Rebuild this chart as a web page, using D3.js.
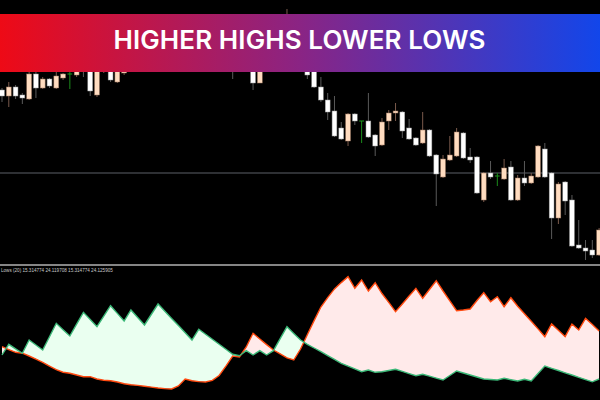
<!DOCTYPE html>
<html><head><meta charset="utf-8">
<script src="https://cdn.jsdelivr.net/npm/d3@7"></script>
<style>html,body{margin:0;padding:0;background:#000;overflow:hidden}svg{display:block}</style>
</head><body><svg id="c" width="600" height="400"></svg>
<script>
const title = "HIGHER HIGHS LOWER LOWS";
const indicatorLabel = "Lows (20) 15.314774 24.119708 15.314774 24.125905";
const levelPrice = 1.2827;

const open = [
1.2910,1.2904,1.2913,1.2905,1.2901,1.2926,1.2912,1.2921,1.2912,1.2922,
1.2926,1.2925,1.2940,1.2938,1.2905,1.2930,1.2938,1.2918,1.2927,1.2940,
1.2932,1.2944,1.2955,1.2942,1.2958,1.2968,1.2956,1.2945,1.2958,1.2950,
1.2964,1.2972,1.2960,1.2948,1.2956,1.2942,1.2954,1.2950,1.2917,1.2948,
1.2964,1.2976,1.2966,1.2980,1.2960,1.2942,1.2938,1.2913,1.2900,1.2889,
1.2872,1.2859,1.2886,1.2879,1.2879,1.2865,1.2855,1.2879,1.2887,1.2888,
1.2872,1.2862,1.2857,1.2870,1.2845,1.2823,1.2840,1.2844,1.2867,1.2843,
1.2843,1.2800,1.2827,1.2824,1.2821,1.2833,1.2800,1.2822,1.2817,1.2823,
1.2851,1.2827,1.2782,1.2818,1.2800,1.2755,1.2752,1.2750,1.2745];
const high = [
1.2912,1.2918,1.2915,1.2907,1.2928,1.2930,1.2923,1.2922,1.2930,1.2927,
1.2932,1.2934,1.2945,1.2942,1.2940,1.2948,1.2944,1.2940,1.2942,1.2945,
1.2950,1.2960,1.2958,1.2965,1.2974,1.2972,1.2960,1.2962,1.2964,1.2970,
1.2978,1.2976,1.2964,1.2960,1.2962,1.2960,1.2958,1.2956,1.2952,1.2970,
1.2982,1.2984,1.2991,1.2984,1.2965,1.2946,1.2942,1.2923,1.2907,1.2904,
1.2878,1.2887,1.2887,1.2879,1.2907,1.2866,1.2882,1.2890,1.2897,1.2889,
1.2881,1.2863,1.2888,1.2871,1.2846,1.2845,1.2864,1.2872,1.2868,1.2852,
1.2844,1.2828,1.2839,1.2827,1.2841,1.2839,1.2825,1.2839,1.2827,1.2855,
1.2857,1.2828,1.2818,1.2819,1.2805,1.2780,1.2760,1.2760,1.2772];
const low = [
1.2898,1.2893,1.2901,1.2896,1.2900,1.2902,1.2911,1.2912,1.2911,1.2920,
1.2911,1.2923,1.2923,1.2904,1.2903,1.2927,1.2918,1.2917,1.2925,1.2929,
1.2930,1.2940,1.2938,1.2940,1.2955,1.2950,1.2940,1.2942,1.2944,1.2946,
1.2960,1.2955,1.2942,1.2940,1.2921,1.2938,1.2928,1.2910,1.2917,1.2944,
1.2960,1.2962,1.2962,1.2956,1.2936,1.2921,1.2912,1.2898,1.2880,1.2863,
1.2860,1.2854,1.2875,1.2857,1.2862,1.2844,1.2854,1.2870,1.2879,1.2862,
1.2860,1.2854,1.2856,1.2843,1.2794,1.2822,1.2839,1.2843,1.2841,1.2837,
1.2806,1.2798,1.2821,1.2814,1.2820,1.2799,1.2799,1.2814,1.2816,1.2822,
1.2822,1.2761,1.2776,1.2785,1.2753,1.2751,1.2740,1.2742,1.2744];
const close = [
1.2904,1.2913,1.2904,1.2902,1.2926,1.2912,1.2921,1.2914,1.2924,1.2926,
1.2926,1.2930,1.2932,1.2909,1.2936,1.2942,1.2920,1.2934,1.2936,1.2932,
1.2945,1.2955,1.2942,1.2960,1.2968,1.2956,1.2945,1.2958,1.2950,1.2965,
1.2972,1.2960,1.2948,1.2956,1.2942,1.2954,1.2940,1.2917,1.2948,1.2964,
1.2976,1.2966,1.2980,1.2960,1.2942,1.2925,1.2913,1.2900,1.2888,1.2864,
1.2861,1.2886,1.2879,1.2879,1.2863,1.2854,1.2878,1.2887,1.2889,1.2869,
1.2861,1.2855,1.2870,1.2844,1.2826,1.2841,1.2845,1.2868,1.2842,1.2840,
1.2807,1.2827,1.2823,1.2824,1.2832,1.2800,1.2822,1.2817,1.2824,1.2854,
1.2823,1.2782,1.2816,1.2799,1.2754,1.2752,1.2749,1.2745,1.2770];

const highsLine = [
20.0,22.14,21.24,20.34,23.0,22.0,21.0,23.66,26.34,25.06,
23.8,26.16,28.54,27.1,25.66,27.76,29.86,28.32,26.8,29.0,
27.5,26.0,28.1,30.2,28.76,27.32,25.88,24.44,23.0,25.14,
24.14,23.14,22.14,21.14,20.14,19.86,20.86,20.0,20.86,20.0,
20.86,23.26,25.66,24.32,23.0,22.14,21.4,20.66,19.88,19.12,
18.34,17.78,17.22,16.66,17.0,16.54,16.66,16.9,17.14,16.72,
16.28,15.86,16.14,15.76,15.38,15.0,15.9,16.8,16.4,16.0,
15.6,15.2,15.1,15.0,15.34,15.06,14.8,15.14,14.8,16.3,
17.8,17.34,16.9,16.44,16.0,15.54,15.08,14.64,15.2];
const lowsLine = [
21.66,21.08,20.54,20.36,19.8,19.18,18.52,17.78,17.06,16.56,
16.34,16.0,15.66,15.66,15.2,14.94,14.84,14.6,14.26,14.06,
13.92,13.76,13.58,13.4,13.28,13.2,13.8,15.2,14.86,14.68,
14.6,14.92,15.9,17.76,19.8,19.6,21.6,24.34,23.2,22.08,
21.0,20.24,19.44,19.0,21.2,24.04,26.88,29.6,31.48,33.22,
34.48,35.66,33.34,35.0,32.8,34.46,32.3,30.52,28.66,30.2,
31.8,33.34,31.34,33.1,34.86,32.8,30.84,28.86,29.0,29.2,
30.9,32.46,30.66,31.66,29.66,31.46,29.74,28.26,26.74,25.22,
23.66,26.2,24.94,23.66,26.2,25.0,27.34,26.08,24.8];

const W = 600, H = 400;
const svg = d3.select("#c");
const defs = svg.append("defs");
svg.append("rect").attr("width", W).attr("height", H).attr("fill", "#000");

const n = open.length;
const idx = d3.range(n);
const x = d3.scaleLinear().domain([0, n - 1]).range([2, 599.1]);
const yP = d3.scaleLinear().domain([1.2735, 1.3000]).range([265, 0]);
const yI = d3.scaleLinear().domain([11, 37.8]).range([400, 266]);

// upper panel
defs.append("clipPath").attr("id", "upClip").append("rect").attr("x", 0).attr("y", 0).attr("width", W).attr("height", 264);
const up = svg.append("g").attr("clip-path", "url(#upClip)");
up.append("line").attr("x1", 0).attr("x2", W).attr("y1", yP(levelPrice)).attr("y2", yP(levelPrice))
  .attr("stroke", "#5d6168").attr("stroke-width", 1);

const bw = 4.8;
const cg = up.selectAll("g.c").data(idx).join("g").attr("class", "c");
cg.append("line")
  .attr("x1", i => x(i)).attr("x2", i => x(i))
  .attr("y1", i => yP(high[i])).attr("y2", i => yP(low[i]))
  .attr("stroke", i => open[i] === close[i] ? "#1c8c1c" : (close[i] > open[i] ? "#7a5a4c" : "#5a5a5a"))
  .attr("stroke-width", 1);
cg.filter(i => open[i] !== close[i]).append("rect")
  .attr("x", i => x(i) - bw / 2).attr("width", bw)
  .attr("y", i => yP(Math.max(open[i], close[i])))
  .attr("height", i => Math.max(1, Math.abs(yP(open[i]) - yP(close[i]))))
  .attr("fill", i => close[i] > open[i] ? "#ffdcc0" : "#ffffff")
  .attr("stroke", i => close[i] > open[i] ? "#a07a62" : "#9a9a9a")
  .attr("stroke-width", 0.5);
cg.filter(i => open[i] === close[i]).append("line")
  .attr("x1", i => x(i) - 2.4).attr("x2", i => x(i) + 2.4)
  .attr("y1", i => yP(open[i])).attr("y2", i => yP(open[i]))
  .attr("stroke", "#1c9a1c").attr("stroke-width", 1);

// banner
const grad = defs.append("linearGradient").attr("id", "bannerGrad").attr("x1", "0").attr("x2", "1").attr("y1", "0").attr("y2", "0");
grad.append("stop").attr("offset", "0").attr("stop-color", "#ee0a16");
grad.append("stop").attr("offset", "0.5").attr("stop-color", "#8a2484");
grad.append("stop").attr("offset", "1").attr("stop-color", "#1246ea");
svg.append("rect").attr("x", 0).attr("y", 14).attr("width", W).attr("height", 58).attr("fill", "url(#bannerGrad)");
const t = svg.append("text").attr("x", 299.5).attr("y", 49).attr("text-anchor", "middle")
  .attr("font-family", "Inter, 'Open Sans', sans-serif").attr("font-weight", 600)
  .attr("font-size", 26).attr("fill", "#fff").text(title);
const tw = t.node().getComputedTextLength();
t.attr("letter-spacing", ((372 - tw) / (title.length - 1)).toFixed(3));

// separator
svg.append("line").attr("x1", 0).attr("x2", W).attr("y1", 265).attr("y2", 265).attr("stroke", "#858585").attr("stroke-width", 2);

// lower panel
defs.append("clipPath").attr("id", "loClip").append("rect").attr("x", 0).attr("y", 266).attr("width", W).attr("height", 134);
const lo = svg.append("g").attr("clip-path", "url(#loClip)");
const aboveRed = d3.area().x(i => x(i)).y0(266).y1(i => yI(lowsLine[i]));
const belowRed = d3.area().x(i => x(i)).y0(400).y1(i => yI(lowsLine[i]));
defs.append("clipPath").attr("id", "aboveRed").append("path").attr("d", aboveRed(idx));
defs.append("clipPath").attr("id", "belowRed").append("path").attr("d", belowRed(idx));
const between = d3.area().x(i => x(i)).y0(i => yI(lowsLine[i])).y1(i => yI(highsLine[i]));
lo.append("g").attr("clip-path", "url(#aboveRed)").append("path").attr("d", between(idx)).attr("fill", "#eafff0");
lo.append("g").attr("clip-path", "url(#belowRed)").append("path").attr("d", between(idx)).attr("fill", "#ffeaea");
const lineG = d3.line().x(i => x(i)).y(i => yI(highsLine[i]));
const lineR = d3.line().x(i => x(i)).y(i => yI(lowsLine[i]));
lo.append("path").attr("d", lineR(idx)).attr("fill", "none").attr("stroke", "#ff4a10").attr("stroke-width", 1.4);
lo.append("path").attr("d", lineG(idx)).attr("fill", "none").attr("stroke", "#3cb878").attr("stroke-width", 1.4);

svg.append("text").attr("x", 1).attr("y", 271.5).attr("font-family", "'Liberation Sans', Arial, sans-serif")
  .attr("font-size", 4.6).attr("fill", "#c8c8c8").text(indicatorLabel);
</script></body></html>
